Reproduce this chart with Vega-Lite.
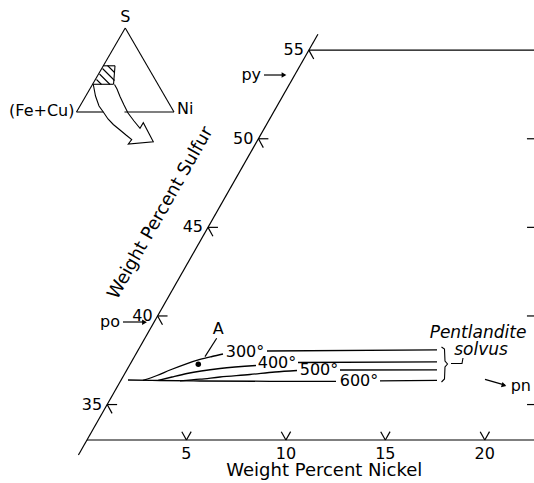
{
 "$schema": "https://vega.github.io/schema/vega-lite/v6.json",
 "width": 534, "height": 483, "padding": 0, "autosize": {"type": "none"},
 "background": "white",
 "config": {"view": {"stroke": null}, "text": {"font": "DejaVu Sans", "color": "black"}},
 "layer": [
  {
   "encoding": {
    "x": {"field": "X", "type": "quantitative", "scale": {"domain": [12.357, 39.205], "nice": false, "zero": false}, "axis": null},
    "y": {"field": "s", "type": "quantitative", "scale": {"domain": [30.573, 57.831], "nice": false, "zero": false}, "axis": null}
   },
   "layer": [
    {
     "data": {"values": [
      {"part": "S axis", "ni": 0, "s": 32.15, "ni2": 0, "s2": 55.9},
      {"part": "Ni axis", "ni": 0, "s": 33, "ni2": 22.5, "s2": 33},
      {"part": "top", "ni": 0, "s": 55, "ni2": 11.35, "s2": 55},
      {"part": "tick", "ni": 0, "s": 35, "ni2": 0.5, "s2": 35},
      {"part": "tick", "ni": 0, "s": 35, "ni2": 0.5, "s2": 34.5},
      {"part": "tick", "ni": 0, "s": 40, "ni2": 0.5, "s2": 40},
      {"part": "tick", "ni": 0, "s": 40, "ni2": 0.5, "s2": 39.5},
      {"part": "tick", "ni": 0, "s": 45, "ni2": 0.5, "s2": 45},
      {"part": "tick", "ni": 0, "s": 45, "ni2": 0.5, "s2": 44.5},
      {"part": "tick", "ni": 0, "s": 50, "ni2": 0.5, "s2": 50},
      {"part": "tick", "ni": 0, "s": 50, "ni2": 0.5, "s2": 49.5},
      {"part": "tick", "ni": 0, "s": 55, "ni2": 0.5, "s2": 54.5},
      {"part": "tick", "ni": 5, "s": 33, "ni2": 5, "s2": 33.47},
      {"part": "tick", "ni": 5, "s": 33, "ni2": 4.53, "s2": 33.47},
      {"part": "tick", "ni": 10, "s": 33, "ni2": 10, "s2": 33.47},
      {"part": "tick", "ni": 10, "s": 33, "ni2": 9.53, "s2": 33.47},
      {"part": "tick", "ni": 15, "s": 33, "ni2": 15, "s2": 33.47},
      {"part": "tick", "ni": 15, "s": 33, "ni2": 14.53, "s2": 33.47},
      {"part": "tick", "ni": 20, "s": 33, "ni2": 20, "s2": 33.47},
      {"part": "tick", "ni": 20, "s": 33, "ni2": 19.53, "s2": 33.47},
      {"part": "edge", "ni": 13.5, "s": 50, "ni2": 13.86, "s2": 50},
      {"part": "edge", "ni": 16.04, "s": 45, "ni2": 16.39, "s2": 45},
      {"part": "edge", "ni": 18.57, "s": 40, "ni2": 18.93, "s2": 40},
      {"part": "edge", "ni": 21.11, "s": 35, "ni2": 21.46, "s2": 35},
      {"part": "A leader", "ni": 3.611, "s": 38.739, "ni2": 3.549, "s2": 37.701},
      {"part": "py arrow", "ni": -1.544, "s": 53.598, "ni2": -0.5, "s2": 53.598},
      {"part": "po arrow", "ni": -1.566, "s": 39.659, "ni2": -0.45, "s2": 39.659},
      {"part": "pn arrow", "ni": 18.274, "s": 36.425, "ni2": 19.45, "s2": 36.1}
     ]},
     "transform": [{"calculate": "datum.ni + 0.507*datum.s", "as": "X"}, {"calculate": "datum.ni2 + 0.507*datum.s2", "as": "X2"}],
     "mark": {"type": "rule", "color": "black", "strokeWidth": 1.2},
     "encoding": {"x2": {"field": "X2"}, "y2": {"field": "s2"}}
    },
    {
     "data": {"values": [
      {"id": "300a", "ni": 1.113, "s": 36.358}, {"id": "300a", "ni": 1.674, "s": 36.64}, {"id": "300a", "ni": 2.17, "s": 36.95}, {"id": "300a", "ni": 2.761, "s": 37.272}, {"id": "300a", "ni": 3.378, "s": 37.543}, {"id": "300a", "ni": 3.896, "s": 37.712}, {"id": "300a", "ni": 4.377, "s": 37.853},
      {"id": "300b", "ni": 6.504, "s": 38.023}, {"id": "300b", "ni": 15.016, "s": 38.09},
      {"id": "400a", "ni": 1.868, "s": 36.358}, {"id": "400a", "ni": 2.471, "s": 36.555}, {"id": "400a", "ni": 3.125, "s": 36.753}, {"id": "400a", "ni": 4.641, "s": 37.035}, {"id": "400a", "ni": 6.365, "s": 37.204},
      {"id": "400b", "ni": 8.391, "s": 37.374}, {"id": "400b", "ni": 15.36, "s": 37.413},
      {"id": "500a", "ni": 2.982, "s": 36.341}, {"id": "500a", "ni": 3.941, "s": 36.431}, {"id": "500a", "ni": 4.884, "s": 36.555}, {"id": "500a", "ni": 6.321, "s": 36.696}, {"id": "500a", "ni": 7.506, "s": 36.837}, {"id": "500a", "ni": 8.569, "s": 36.922},
      {"id": "500b", "ni": 10.717, "s": 36.95}, {"id": "500b", "ni": 15.588, "s": 36.962},
      {"id": "600a", "ni": 0.344, "s": 36.386}, {"id": "600a", "ni": 1.968, "s": 36.358}, {"id": "600a", "ni": 3.993, "s": 36.33}, {"id": "600a", "ni": 7.521, "s": 36.313}, {"id": "600a", "ni": 10.839, "s": 36.313},
      {"id": "600b", "ni": 13.037, "s": 36.341}, {"id": "600b", "ni": 15.889, "s": 36.369}
     ]},
     "transform": [{"calculate": "datum.ni + 0.507*datum.s", "as": "X"}],
     "mark": {"type": "line", "color": "black", "strokeWidth": 1.3, "interpolate": "monotone"},
     "encoding": {"detail": {"field": "id"}}
    },
    {
     "data": {"values": [
      {"id": "brace", "o": 1, "ni": 15.162, "s": 38.248}, {"id": "brace", "o": 2, "ni": 15.37, "s": 38.135}, {"id": "brace", "o": 3, "ni": 15.739, "s": 37.458}, {"id": "brace", "o": 4, "ni": 15.95, "s": 37.289}, {"id": "brace", "o": 5, "ni": 15.91, "s": 37.12}, {"id": "brace", "o": 6, "ni": 16.229, "s": 36.442}, {"id": "brace", "o": 7, "ni": 16.164, "s": 36.273},
      {"id": "leader", "o": 1, "ni": 16.112, "s": 37.317}, {"id": "leader", "o": 2, "ni": 16.665, "s": 37.317}, {"id": "leader", "o": 3, "ni": 16.558, "s": 37.628}
     ]},
     "transform": [{"calculate": "datum.ni + 0.507*datum.s", "as": "X"}],
     "mark": {"type": "line", "color": "black", "strokeWidth": 1.1},
     "encoding": {"detail": {"field": "id"}, "order": {"field": "o"}}
    },
    {
     "data": {"values": [{"label": "A", "ni": 3.43, "s": 37.272}]},
     "transform": [{"calculate": "datum.ni + 0.507*datum.s", "as": "X"}],
     "mark": {"type": "point", "filled": true, "color": "black", "size": 30, "opacity": 1}
    },
    {
     "data": {"values": [{"label": "py", "ni": -0.539, "s": 53.598}, {"label": "po", "ni": -0.477, "s": 39.642}]},
     "transform": [{"calculate": "datum.ni + 0.507*datum.s", "as": "X"}],
     "mark": {"type": "point", "shape": "triangle-right", "filled": true, "color": "black", "size": 30, "opacity": 1}
    },
    {
     "data": {"values": [{"label": "pn", "ni": 19.4, "s": 36.087}]},
     "transform": [{"calculate": "datum.ni + 0.507*datum.s", "as": "X"}],
     "mark": {"type": "point", "shape": "triangle-right", "filled": true, "color": "black", "size": 30, "opacity": 1, "angle": 17}
    },
    {
     "data": {"values": [{"label": "35", "ni": 0, "s": 35}, {"label": "40", "ni": 0, "s": 40}, {"label": "45", "ni": 0, "s": 45}, {"label": "50", "ni": 0, "s": 50}, {"label": "55", "ni": 0, "s": 55}]},
     "transform": [{"calculate": "datum.ni + 0.507*datum.s", "as": "X"}],
     "mark": {"type": "text", "align": "right", "baseline": "middle", "dx": -5, "fontSize": 16},
     "encoding": {"text": {"field": "label"}}
    },
    {
     "data": {"values": [{"label": "5", "ni": 5, "s": 33}, {"label": "10", "ni": 10, "s": 33}, {"label": "15", "ni": 15, "s": 33}, {"label": "20", "ni": 20, "s": 33}]},
     "transform": [{"calculate": "datum.ni + 0.507*datum.s", "as": "X"}],
     "mark": {"type": "text", "align": "center", "baseline": "top", "dy": 6, "fontSize": 16},
     "encoding": {"text": {"field": "label"}}
    },
    {
     "data": {"values": [{"label": "300°", "ni": 5.426, "s": 37.966}, {"label": "400°", "ni": 7.35, "s": 37.345}, {"label": "500°", "ni": 9.661, "s": 36.95}, {"label": "600°", "ni": 11.987, "s": 36.33}, {"label": "A", "ni": 3.425, "s": 39.264}]},
     "transform": [{"calculate": "datum.ni + 0.507*datum.s", "as": "X"}],
     "mark": {"type": "text", "align": "center", "baseline": "middle", "fontSize": 16},
     "encoding": {"text": {"field": "label"}}
    },
    {
     "data": {"values": [{"label": "py", "ni": -1.544, "s": 53.598}, {"label": "po", "ni": -1.566, "s": 39.659}]},
     "transform": [{"calculate": "datum.ni + 0.507*datum.s", "as": "X"}],
     "mark": {"type": "text", "align": "right", "baseline": "middle", "dx": -3, "fontSize": 16},
     "encoding": {"text": {"field": "label"}}
    },
    {
     "data": {"values": [{"label": "pn", "ni": 19.556, "s": 36.047}]},
     "transform": [{"calculate": "datum.ni + 0.507*datum.s", "as": "X"}],
     "mark": {"type": "text", "align": "left", "baseline": "middle", "dx": 4, "fontSize": 16},
     "encoding": {"text": {"field": "label"}}
    },
    {
     "data": {"values": [{"label": "Pentlandite", "ni": 16.74, "s": 38.756}, {"label": "solvus", "ni": 17.377, "s": 37.797}]},
     "transform": [{"calculate": "datum.ni + 0.507*datum.s", "as": "X"}],
     "mark": {"type": "text", "align": "center", "baseline": "alphabetic", "fontSize": 17, "fontStyle": "italic"},
     "encoding": {"text": {"field": "label"}}
    },
    {
     "data": {"values": [{"label": "Weight Percent Nickel", "ni": 12.96, "s": 30.968}]},
     "transform": [{"calculate": "datum.ni + 0.507*datum.s", "as": "X"}],
     "mark": {"type": "text", "align": "center", "baseline": "alphabetic", "fontSize": 18},
     "encoding": {"text": {"field": "label"}}
    },
    {
     "data": {"values": [{"label": "Weight Percent Sulfur", "ni": -2.501, "s": 45.669}]},
     "transform": [{"calculate": "datum.ni + 0.507*datum.s", "as": "X"}],
     "mark": {"type": "text", "align": "center", "baseline": "alphabetic", "fontSize": 18, "angle": -60.4},
     "encoding": {"text": {"field": "label"}}
    }
   ]
  },
  {
   "encoding": {
    "x": {"field": "IX", "type": "quantitative", "scale": {"domain": [-78.46, 469.23], "nice": false, "zero": false}, "axis": null},
    "y": {"field": "b", "type": "quantitative", "scale": {"domain": [-441.67, 133.33], "nice": false, "zero": false}, "axis": null}
   },
   "layer": [
    {
     "data": {"values": [
      {"part": "base", "a": 0, "b": 0, "a2": 27.5, "b2": 0},
      {"part": "base", "a": 49.2, "b": 0, "a2": 100, "b2": 0},
      {"part": "right side", "a": 100, "b": 0, "a2": 0, "b2": 100},
      {"part": "left side", "a": 0, "b": 100, "a2": 0, "b2": 0},
      {"part": "box", "a": 0, "b": 55, "a2": 12, "b2": 55},
      {"part": "box", "a": 12, "b": 55, "a2": 21.5, "b2": 33},
      {"part": "box", "a": 0, "b": 33, "a2": 21.5, "b2": 33},
      {"part": "hatch", "a": 4.11, "b": 55.36, "a2": 15.46, "b2": 47.02},
      {"part": "hatch", "a": 0.78, "b": 51.79, "a2": 20.22, "b2": 37.5},
      {"part": "hatch", "a": 0.97, "b": 45.24, "a2": 17.99, "b2": 32.74},
      {"part": "hatch", "a": 1.16, "b": 38.69, "a2": 9.27, "b2": 32.74}
     ]},
     "transform": [{"calculate": "datum.a + 0.5*datum.b", "as": "IX"}, {"calculate": "datum.a2 + 0.5*datum.b2", "as": "IX2"}],
     "mark": {"type": "rule", "color": "black", "strokeWidth": 1.1},
     "encoding": {"x2": {"field": "IX2"}, "y2": {"field": "b2"}}
    },
    {
     "data": {"values": [
      {"o": 1, "a": 0.86, "b": 32.74}, {"o": 2, "a": 9.96, "b": 19.05}, {"o": 3, "a": 19.51, "b": 7.14}, {"o": 4, "a": 27.49, "b": 0}, {"o": 5, "a": 36.48, "b": -8.33}, {"o": 6, "a": 45.18, "b": -14.88}, {"o": 7, "a": 55.33, "b": -21.43}, {"o": 8, "a": 64.46, "b": -27.38}, {"o": 9, "a": 72.99, "b": -32.74},
      {"o": 10, "a": 72.18, "b": -38.1}, {"o": 11, "a": 96.45, "b": -35.36}, {"o": 12, "a": 74.88, "b": -12.74}, {"o": 13, "a": 74.83, "b": -19.4},
      {"o": 14, "a": 64.33, "b": -10.71}, {"o": 15, "a": 53.42, "b": -1.19}, {"o": 16, "a": 44.56, "b": 8.33}, {"o": 17, "a": 35.4, "b": 18.45}, {"o": 18, "a": 27.85, "b": 27.38}, {"o": 19, "a": 22.6, "b": 32.74}
     ]},
     "transform": [{"calculate": "datum.a + 0.5*datum.b", "as": "IX"}],
     "mark": {"type": "line", "color": "black", "strokeWidth": 1.1},
     "encoding": {"order": {"field": "o"}}
    },
    {
     "data": {"values": [{"label": "S", "a": 0, "b": 100}]},
     "transform": [{"calculate": "datum.a + 0.5*datum.b", "as": "IX"}],
     "mark": {"type": "text", "align": "center", "baseline": "bottom", "dy": -3, "fontSize": 16},
     "encoding": {"text": {"field": "label"}}
    },
    {
     "data": {"values": [{"label": "(Fe+Cu)", "a": 0, "b": 0}]},
     "transform": [{"calculate": "datum.a + 0.5*datum.b", "as": "IX"}],
     "mark": {"type": "text", "align": "right", "baseline": "middle", "dx": -2, "dy": -1, "fontSize": 16},
     "encoding": {"text": {"field": "label"}}
    },
    {
     "data": {"values": [{"label": "Ni", "a": 100, "b": 0}]},
     "transform": [{"calculate": "datum.a + 0.5*datum.b", "as": "IX"}],
     "mark": {"type": "text", "align": "left", "baseline": "middle", "dx": 3, "dy": -3, "fontSize": 16},
     "encoding": {"text": {"field": "label"}}
    }
   ]
  }
 ],
 "resolve": {"scale": {"x": "independent", "y": "independent"}}
}
